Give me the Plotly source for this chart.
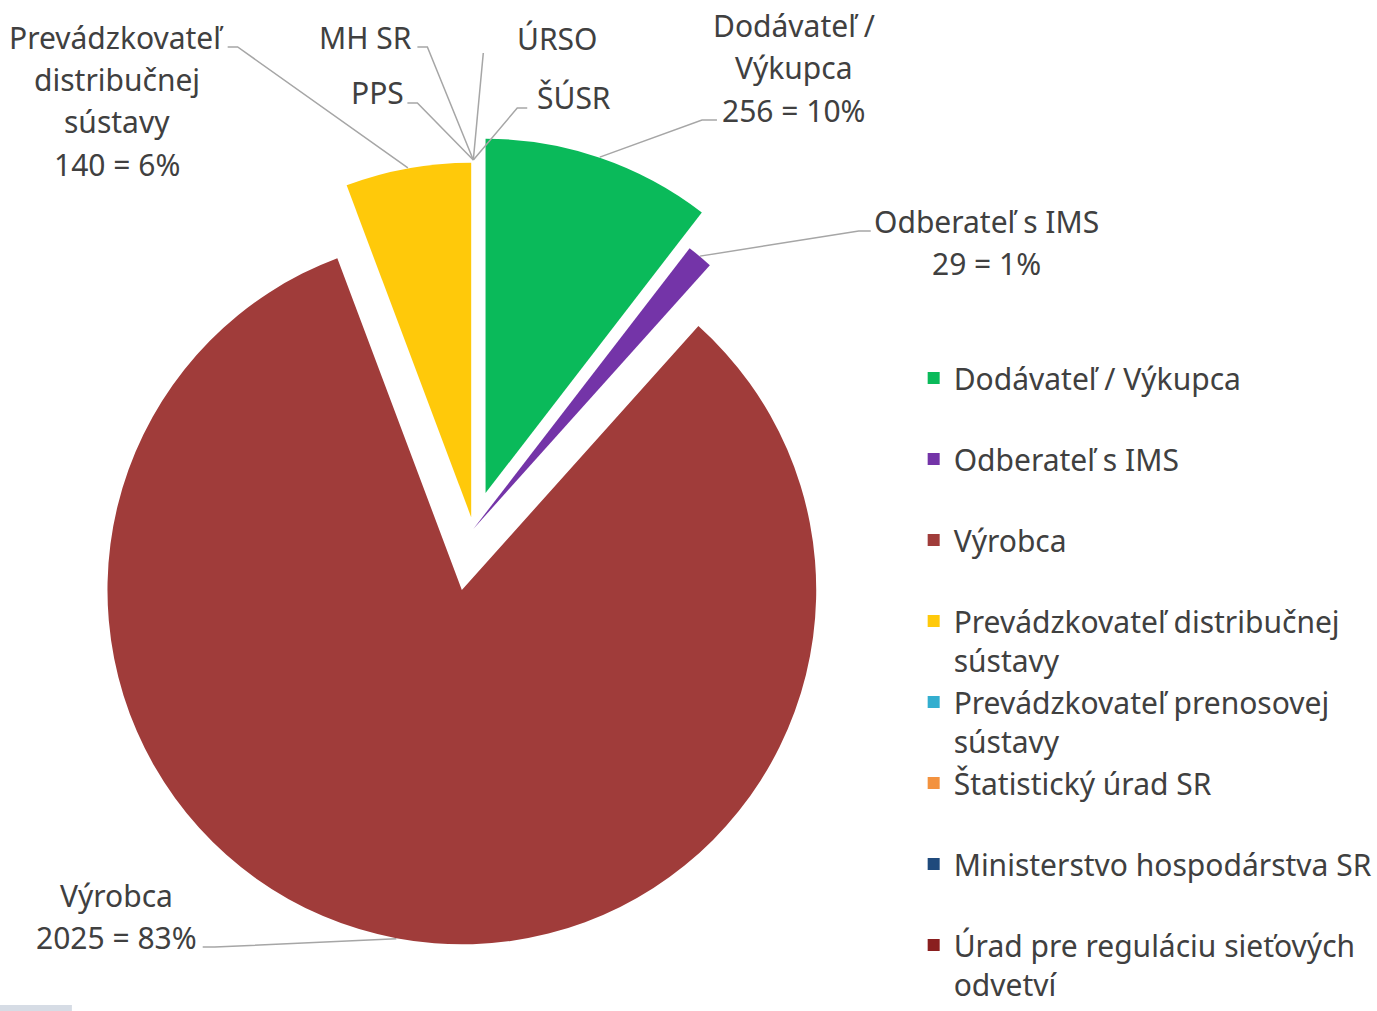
import math
import plotly.graph_objects as go

# ---------------- data ----------------
legend_names = [
    "Dodávateľ / Výkupca<br> ",
    "Odberateľ s IMS<br> ",
    "Výrobca<br> ",
    "Prevádzkovateľ distribučnej<br>sústavy",
    "Prevádzkovateľ prenosovej<br>sústavy",
    "Štatistický úrad SR<br> ",
    "Ministerstvo hospodárstva SR<br> ",
    "Úrad pre reguláciu sieťových<br>odvetví",
]
label_lines = [
    ["Dodávateľ /", "Výkupca"],
    ["Odberateľ s IMS"],
    ["Výrobca"],
    ["Prevádzkovateľ", "distribučnej", "sústavy"],
    ["PPS"],
    ["ŠÚSR"],
    ["MH SR"],
    ["ÚRSO"],
]
values = [256, 29, 2025, 140, 0, 0, 0, 0]
colors = ["#0ABA5A", "#7434A8", "#A03C3A", "#FFC90A",
          "#33AECF", "#F3923E", "#1F4A7C", "#8A1F1F"]
pulls = [0.107, 0.0, 0.175, 0.034, 0.0, 0.0, 0.0, 0.0]

# ---------------- layout geometry (pixels from top-left) ----------------
W, H = 1377, 1011
PH = H
dom_px = (57, 891)
dom_py = (112, 946)
FONT = "Noto Sans"
TXT = "#404040"
LINE = "#A6A6A6"
FS = 30

label_pos = [
    (795, 25), (988, 221), (117, 895), (117, 37),
    (378, 93), (575, 98), (366, 37), (558, 38),
]
LS = 42.5
leader = [
    [(718, 120), (703, 120)],
    [(872, 231), (860, 231)],
    [(203, 947), (215, 947)],
    [(228, 47), (238, 47)],
    [(408, 103), (418, 103)],
    [(528, 108), (518, 108)],
    [(418, 47), (428, 47)],
    [(484, 53), (484, 53)],
]


def px(x):
    return x / W


def py(y):
    return 1 - y / PH


total = sum(values)
cx = (dom_px[0] + dom_px[1]) / 2
cy = (dom_py[0] + dom_py[1]) / 2
side = min(dom_px[1] - dom_px[0], dom_py[1] - dom_py[0])
r = side / (2 + 2 * max(pulls))

fig = go.Figure(go.Pie(
    labels=legend_names,
    values=values,
    sort=False,
    direction="clockwise",
    rotation=0,
    pull=pulls,
    marker=dict(colors=colors, line=dict(width=0)),
    textinfo="none",
    hoverinfo="value+percent",
    domain=dict(x=[px(dom_px[0]), px(dom_px[1])],
                y=[py(dom_py[1]), py(dom_py[0])]),
))

annotations = []
shapes = []
cum = 0.0
for i, v in enumerate(values):
    mid = (cum + v / 2) / total * 2 * math.pi
    cum += v
    dx, dy = math.sin(mid), -math.cos(mid)
    p = pulls[i] * r
    rr = r if v > 0 else r * 1.04
    ex = cx + dx * (p + rr)
    ey = cy + dy * (p + rr)
    lines = list(label_lines[i])
    if v > 0:
        lines.append(f"{v} = {round(100 * v / total)}%")
    lx, ly = label_pos[i]
    for k, t in enumerate(lines):
        annotations.append(dict(
            x=px(lx), y=py(ly + k * LS), xref="paper", yref="paper",
            text=t, showarrow=False, xanchor="center", yanchor="middle",
            font=dict(family=FONT, size=FS, color=TXT),
        ))
    (sx, sy), (kx, ky) = leader[i]
    shapes.append(dict(
        type="path", xref="paper", yref="paper",
        path=f"M {px(sx)} {py(sy)} L {px(kx)} {py(ky)} L {px(ex)} {py(ey)}",
        line=dict(color=LINE, width=1.5),
    ))

shapes.append(dict(type="rect", xref="paper", yref="paper",
                   x0=0, x1=px(72), y0=py(1011), y1=py(1005),
                   fillcolor="#D6DCE5", line=dict(width=0)))

fig.update_layout(
    width=W, height=H, autosize=False,
    margin=dict(l=0, r=0, t=0, b=0),
    paper_bgcolor="white",
    plot_bgcolor="white",
    showlegend=True,
    legend=dict(
        x=915 / W, y=py(352), xanchor="left", yanchor="top",
        font=dict(family=FONT, size=FS, color=TXT),
        valign="top",
        bgcolor="rgba(0,0,0,0)",
    ),
    annotations=annotations,
    shapes=shapes,
)

css = (
    "var h=document.documentElement,b=document.body;"
    "h.style.margin='0';h.style.padding='0';h.style.overflow='hidden';"
    "b.style.margin='0';b.style.padding='0';b.style.overflow='hidden';"
)
fig.write_html(
    "out.html",
    config={"responsive": False, "displayModeBar": False},
    default_width=f"{W}px", default_height=f"{H}px",
    post_script=css,
)
